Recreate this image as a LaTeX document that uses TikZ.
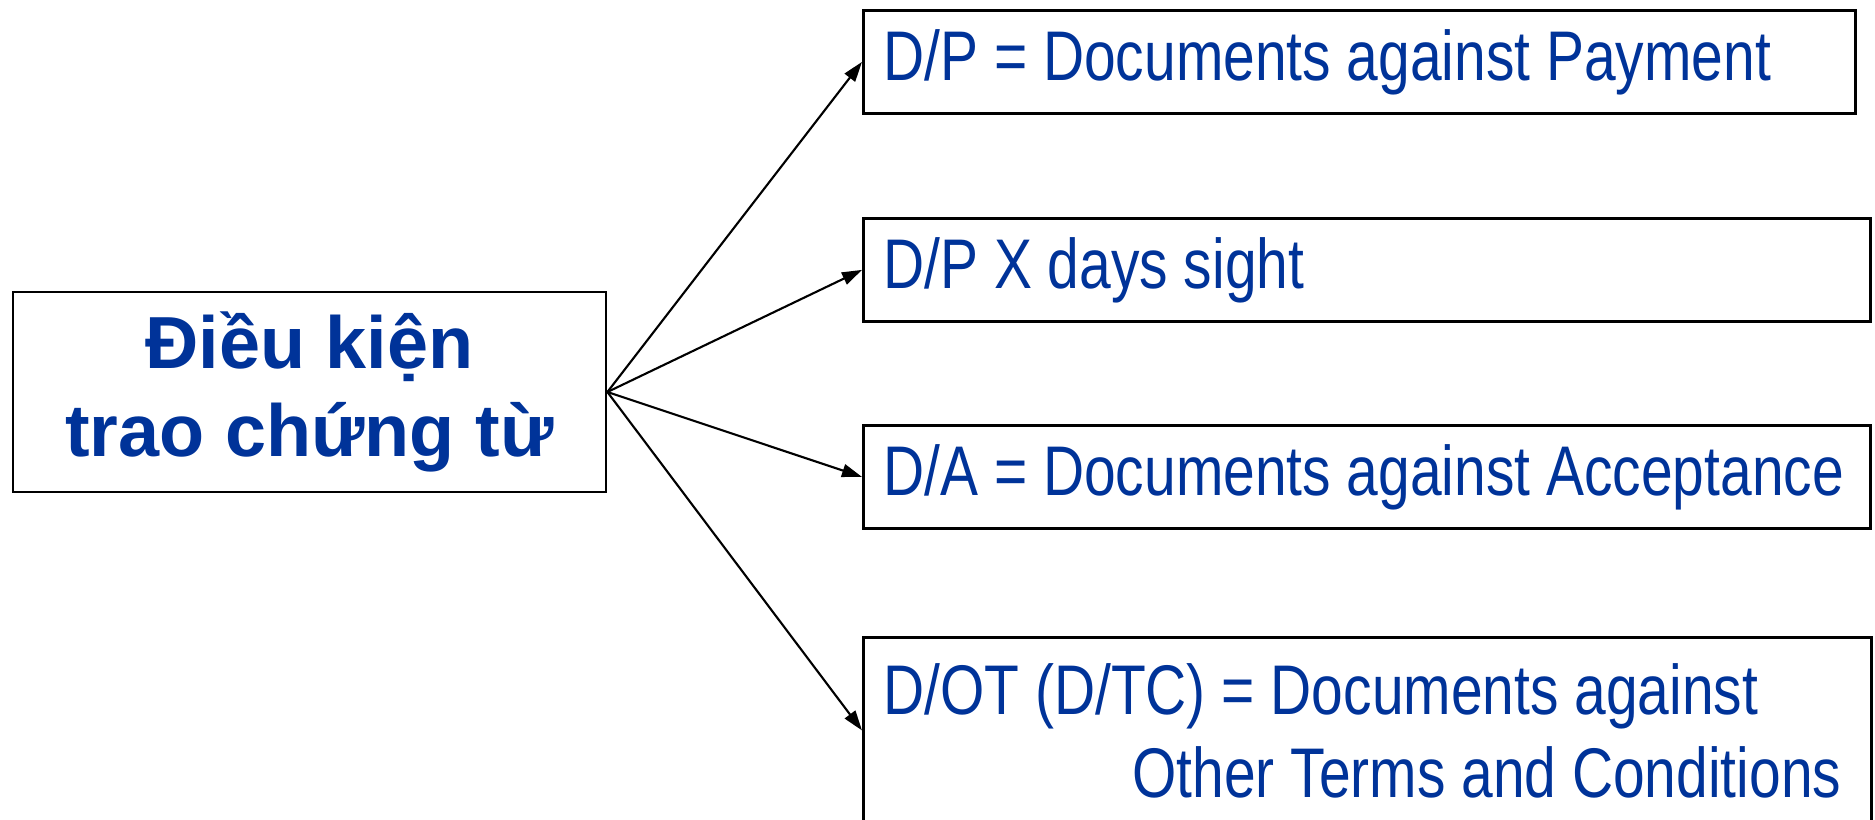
\documentclass[tikz,border=0pt]{standalone}
\usepackage{fontspec}
\setmainfont{Liberation Sans}
\newfontfamily\narrowsans{Liberation Sans}[FakeStretch=0.81]
\usetikzlibrary{arrows.meta}
\definecolor{docblue}{RGB}{0,51,153}
\newcommand\fontspaces{\spaceskip=0pt\xspaceskip=0pt\relax}
\tikzset{
  mainbox/.style={draw, line width=0.8pt, font=\bfseries\fontsize{21}{25.3}\selectfont,
    text=docblue, align=center, minimum width=5.93cm, minimum height=2cm},
  termbox/.style={draw, line width=0.8pt, anchor=north west, font=\narrowsans\fontsize{20}{23.6}\selectfont,
    text=docblue, align=left, inner xsep=0.2cm, minimum height=1.03cm,
    execute at begin node=\fontspaces},
}
\begin{document}
\begin{tikzpicture}[>={Triangle[length=2mm,width=1.3mm]}]
        \useasboundingbox (0,0) rectangle (18.75,-8.2);
        % Left box
        \node[mainbox] (cond) at (3.095,-3.92) {Điều kiện\\trao chứng từ};

        % Right boxes (top to bottom)
        \node[termbox, text width=9.52cm] (dp) at (8.62,-0.09) {D/P = Documents against Payment};
        \node[termbox, text width=9.67cm] (dpx) at (8.62,-2.17) {D/P X days sight};
        \node[termbox, text width=9.67cm] (da) at (8.62,-4.24) {D/A = Documents against Acceptance};
        \node[termbox, text width=9.68cm, minimum height=1.86cm] (dot) at (8.62,-6.36)
            {D/OT (D/TC) = Documents against\\\hspace*{2.49cm}Other Terms and Conditions};

        % Arrows from the left box
        \foreach \t in {dp, dpx, da, dot} {
            \draw[->, line width=0.6pt] (cond.east) -- (\t.west);
        }
\end{tikzpicture}
\end{document}
